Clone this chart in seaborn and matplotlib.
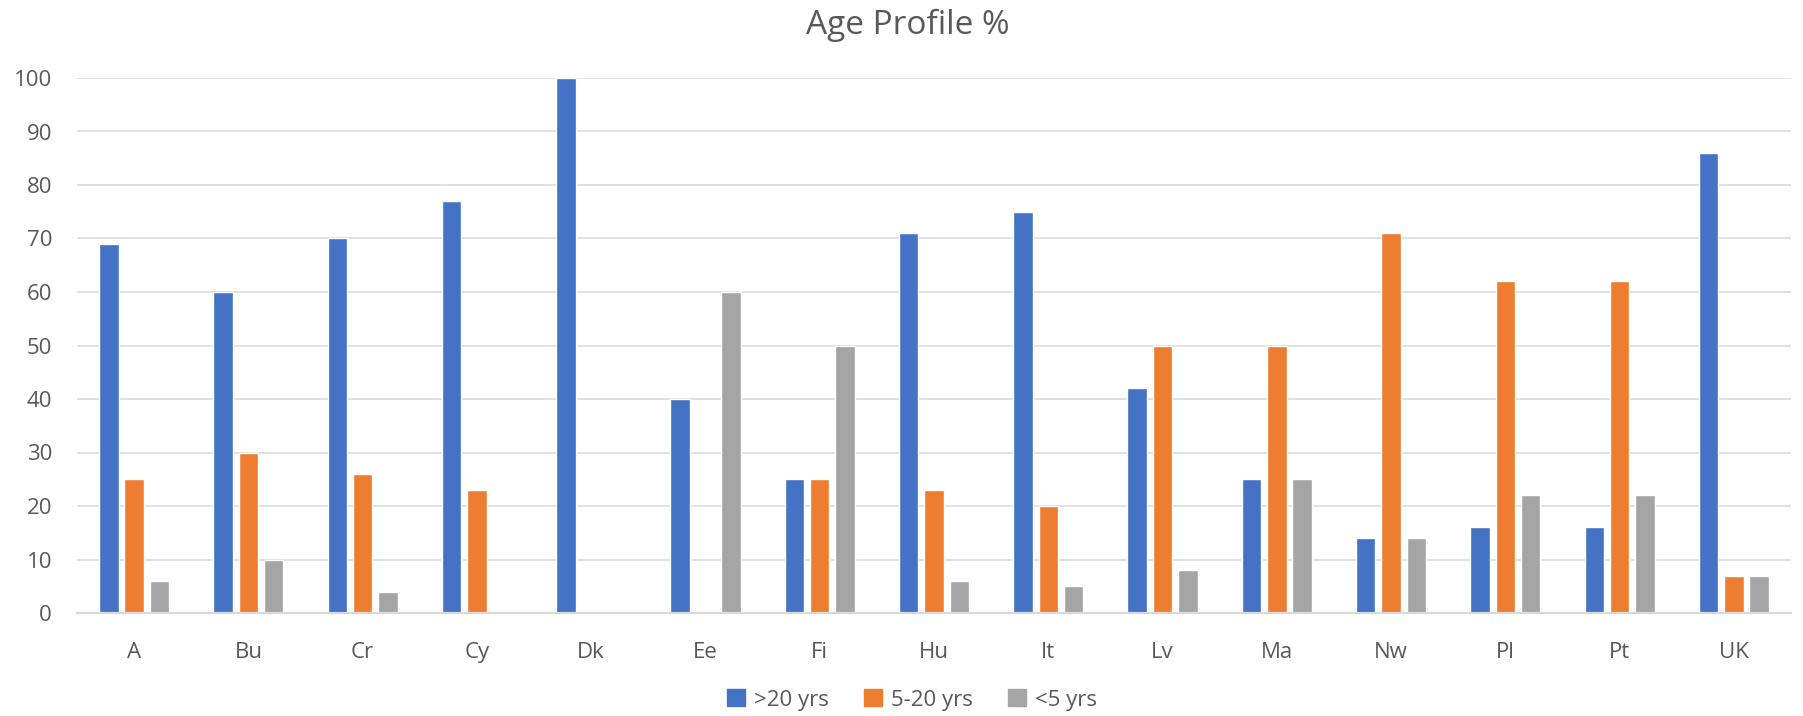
import pandas as pd
import numpy as np
import matplotlib.pyplot as plt
import seaborn as sns

# data
countries = ['A', 'Bu', 'Cr', 'Cy', 'Dk', 'Ee', 'Fi', 'Hu', 'It', 'Lv', 'Ma', 'Nw', 'Pl', 'Pt', 'UK']
over_20 = [69, 60, 70, 77, 100, 40, 25, 71, 75, 42, 25, 14, 16, 16, 86]
from_5_to_20 = [25, 30, 26, 23, 0, 0, 25, 23, 20, 50, 50, 71, 62, 62, 7]
under_5 = [6, 10, 4, 0, 0, 60, 50, 6, 5, 8, 25, 14, 22, 22, 7]
series_names = ['>20 yrs', '5-20 yrs', '<5 yrs']
colores = ['#4472C4', '#ED7D31', '#A5A5A5']

df = pd.DataFrame({'pais': countries * 3,
                   'valor': over_20 + from_5_to_20 + under_5,
                   'serie': np.repeat(series_names, len(countries))})

sns.set_style('white')
plt.rcParams['font.family'] = ['Open Sans', 'DejaVu Sans']
gris_texto = '#595959'

fig = plt.figure(figsize=(18.03, 7.16), dpi=100)
ax = fig.add_axes([77 / 1803, 1 - 613 / 716, (1791 - 77) / 1803, (613 - 78) / 716])

sns.barplot(data=df, x='pais', y='valor', hue='serie', palette=colores,
            width=0.665, gap=0.23, ax=ax, legend=False, saturation=1)

ax.set_ylim(0, 100)
ax.set_xlim(-0.5, len(countries) - 0.5)
ax.set_yticks(range(0, 101, 10))
ax.yaxis.grid(True, color='#D9D9D9', linewidth=1.1)
ax.set_axisbelow(True)
for lado in ['top', 'right', 'left']:
    ax.spines[lado].set_visible(False)
ax.spines['bottom'].set_color('#D9D9D9')
ax.spines['bottom'].set_linewidth(1.6)
ax.set_xlabel('')
ax.set_ylabel('')
ax.tick_params(axis='x', length=0, pad=21, labelsize=16, labelcolor=gris_texto)
ax.tick_params(axis='y', length=0, pad=18, labelsize=16, labelcolor=gris_texto)

fig.text(908 / 1803, 1 - 25 / 716, 'Age Profile %', ha='center', va='center',
         fontsize=24, color=gris_texto)

handles = [plt.Rectangle((0, 0), 1, 1, color=c) for c in colores]
leg = fig.legend(handles, series_names, loc='center', bbox_to_anchor=(912 / 1803, 1 - 700 / 716),
                 ncol=3, frameon=False, fontsize=16, handlelength=0.8, handleheight=0.8,
                 handletextpad=0.4, columnspacing=1.6)
for t in leg.get_texts():
    t.set_color(gris_texto)

fig.savefig('out.png', dpi=100)
